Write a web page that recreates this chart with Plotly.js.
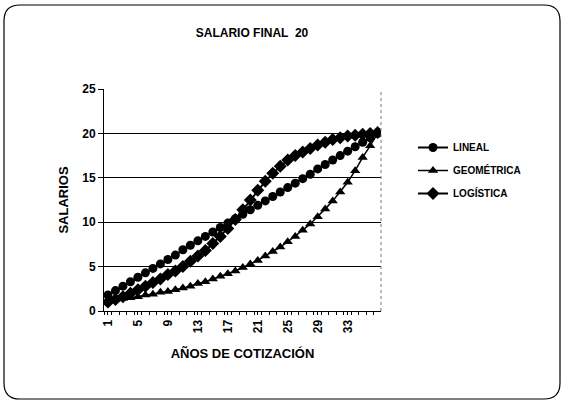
<!DOCTYPE html>
<html>
<head>
<meta charset="utf-8">
<script src="https://cdn.plot.ly/plotly-3.0.1.min.js"></script>
<style>html,body{margin:0;padding:0;background:#fff;}#chart{width:564px;height:404px;}</style>
</head>
<body>
<div id="chart"></div>
<script>
// Años de cotización (categories)
const years = [1,2,3,4,5,6,7,8,9,10,11,12,13,14,15,16,17,18,19,20,21,22,23,24,25,26,27,28,29,30,31,32,33,34,35,36,37];
// Tick labels shown on the x axis
const xTickVals = [1,5,9,13,17,21,25,29,33];
const xTickText = ["1","5","9","13","17","21","25","29","33"];
// Series values
const lineal = [1.8,2.3,2.8,3.3,3.8,4.3,4.8,5.3,5.8,6.3,6.9,7.4,7.9,8.4,8.9,9.4,9.9,10.4,10.9,11.4,11.9,12.4,12.9,13.4,13.9,14.4,14.9,15.4,16.0,16.5,17.0,17.5,18.0,18.5,19.0,19.5,20.0];
const geometrica = [1.2,1.3,1.4,1.5,1.6,1.8,1.9,2.1,2.2,2.4,2.6,2.8,3.1,3.3,3.6,3.9,4.2,4.5,4.9,5.3,5.7,6.2,6.7,7.2,7.8,8.4,9.1,9.8,10.6,11.5,12.4,13.4,14.5,15.8,17.3,18.6,20.0];
const logistica = [1.0,1.3,1.6,2.0,2.4,2.8,3.2,3.6,4.1,4.5,5.0,5.6,6.2,6.8,7.6,8.4,9.3,10.3,11.4,12.5,13.6,14.6,15.5,16.3,17.0,17.5,17.9,18.3,18.7,19.0,19.3,19.5,19.7,19.8,19.9,20.0,20.1];
const yTickVals = [0,5,10,15,20,25];

const FONT = "Liberation Sans, Arial, sans-serif";

const L = 104, R = 381, T = 89, B = 311, W = 564, H = 404;
const px = x => (x - L) / (R - L);
const py = y => (B - y) / (B - T);

function roundRectPath(x0, y0, x1, y1, r) {
  return `M ${px(x0 + r)} ${py(y0)} L ${px(x1 - r)} ${py(y0)} Q ${px(x1)} ${py(y0)} ${px(x1)} ${py(y0 + r)} ` +
         `L ${px(x1)} ${py(y1 - r)} Q ${px(x1)} ${py(y1)} ${px(x1 - r)} ${py(y1)} ` +
         `L ${px(x0 + r)} ${py(y1)} Q ${px(x0)} ${py(y1)} ${px(x0)} ${py(y1 - r)} ` +
         `L ${px(x0)} ${py(y0 + r)} Q ${px(x0)} ${py(y0)} ${px(x0 + r)} ${py(y0)} Z`;
}

const traces = [
  {x: years, y: lineal, name: "LINEAL", type: "scatter", mode: "lines+markers",
   line: {color: "#000", width: 2}, marker: {symbol: "circle", size: 9, color: "#000"}, legendgroup: "a"},
  {x: years, y: geometrica, name: "GEOMÉTRICA", type: "scatter", mode: "lines+markers",
   line: {color: "#000", width: 1.5}, marker: {symbol: "triangle-up", size: 9, color: "#000"}, legendgroup: "b"},
  {x: years, y: logistica, name: "LOGÍSTICA", type: "scatter", mode: "lines+markers",
   line: {color: "#000", width: 2}, marker: {symbol: "diamond", size: 10, color: "#000"}, legendgroup: "c"}
];

const layout = {
  width: W, height: H,
  paper_bgcolor: "#fff", plot_bgcolor: "#fff",
  margin: {l: L, r: W - R, t: T, b: H - B, pad: 0},
  font: {family: FONT, color: "#000", size: 11, weight: 700},
  title: {text: "SALARIO FINAL  20", font: {family: FONT, size: 12, weight: 700, color: "#000"},
          xref: "container", yref: "container", x: 252 / W, y: 1 - 33 / H, xanchor: "center", yanchor: "middle"},
  xaxis: {
    range: [0.47, 37.45], tickmode: "array", tickvals: xTickVals, ticktext: xTickText,
    tickangle: -90, ticks: "outside", ticklen: 3, tickcolor: "#000",
    minor: {dtick: 1, tick0: 0.5, ticks: "outside", ticklen: 3, tickcolor: "#000", showgrid: false},
    showgrid: false, zeroline: false, showline: true, linecolor: "#000", linewidth: 1,
    tickfont: {family: FONT, size: 12, weight: 700},
    title: {text: "AÑOS DE COTIZACIÓN", font: {family: FONT, size: 13, weight: 700}, standoff: 16}
  },
  yaxis: {
    range: [0, 25], tickmode: "array", tickvals: yTickVals,
    ticks: "outside", ticklen: 5, tickcolor: "#000",
    showgrid: true, gridcolor: "#000", gridwidth: 1, zeroline: false,
    showline: true, linecolor: "#000", linewidth: 1,
    tickfont: {family: FONT, size: 12, weight: 700},
    title: {text: "SALARIOS", font: {family: FONT, size: 13, weight: 700}, standoff: 10}
  },
  legend: {
    x: px(413), y: py(133), xanchor: "left", yanchor: "top",
    font: {family: FONT, size: 10, weight: 700, color: "#000"},
    bgcolor: "rgba(0,0,0,0)", traceorder: "grouped", tracegroupgap: 4
  },
  shapes: [
    {type: "path", xref: "paper", yref: "paper", path: roundRectPath(4, 5, 560, 399, 16),
     line: {color: "#000", width: 1.2}, fillcolor: "rgba(0,0,0,0)", layer: "below"},
    {type: "line", xref: "paper", yref: "paper", x0: 1, x1: 1, y0: 0, y1: 1,
     line: {color: "#777", width: 1, dash: "dot"}}
  ],
  showlegend: true
};

Plotly.newPlot("chart", traces, layout, {staticPlot: true, displayModeBar: false});
</script>
</body>
</html>
